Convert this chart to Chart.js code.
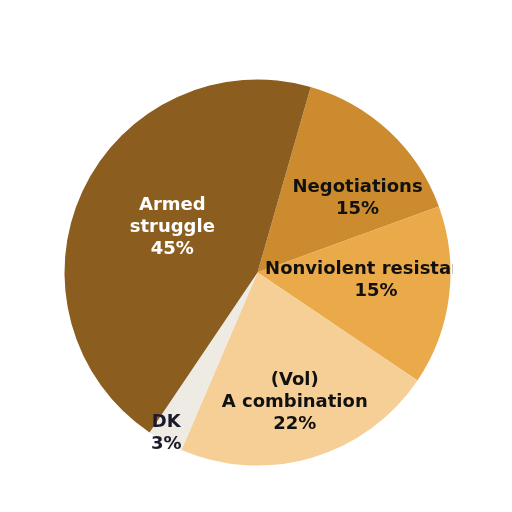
<!DOCTYPE html>
<html>
<head>
<meta charset="utf-8">
<script src="https://cdn.jsdelivr.net/npm/chart.js@4"></script>
<style>
  html, body { margin: 0; padding: 0; background: #fff; }
  #pie { display: block; }
</style>
</head>
<body>
<canvas id="pie" width="512" height="512"></canvas>
<script>
//______________________________________________________
// data
var SliceNames  = ['Negotiations', 'Nonviolent resistance', '(Vol) A combination', 'DK', 'Armed struggle'];
var SliceValues = [15, 15, 22, 3, 45];
var SliceLines  = [
    ['Negotiations', '15%'],
    ['Nonviolent resistance', '15%'],
    ['(Vol)', 'A combination', '22%'],
    ['DK', '3%'],
    ['Armed', 'struggle', '45%']
];

// look
var SliceColors = ['#CB8B2E', '#EBAA4A', '#F6CF97', '#EEEBE5', '#8B5E1F'];
var TextColors  = ['#111111', '#111111', '#111111', '#1a1a2a', '#ffffff'];
// where each label sits: fraction of radius, angle shift (deg) from slice middle
var LabelRadius = [0.645, 0.615, 0.70, 0.96, 0.50];
var LabelShift  = [10.5, -3.4, 0.4, 0.9, 3.0];
const LineHeight = 22;
const LabelFont  = 'bold 18px "DejaVu Sans", Verdana, sans-serif';

//______________________________________________________
const labelPlugin = {
    id: 'sliceLabels',
    afterDatasetsDraw(chart) {
        var ctx = chart.ctx;
        var area = chart.chartArea;
        var meta = chart.getDatasetMeta(0);
        ctx.save();
        ctx.beginPath();
        ctx.rect(area.left, 0, area.right - area.left + 2, chart.height);
        ctx.clip();
        ctx.font = LabelFont;
        ctx.textAlign = 'center';
        ctx.textBaseline = 'middle';
        meta.data.forEach(function (arc, i) {
            var p = arc.getProps(['x', 'y', 'startAngle', 'endAngle', 'outerRadius'], true);
            var mid = (p.startAngle + p.endAngle) / 2 + LabelShift[i] * Math.PI / 180;
            var r = p.outerRadius * LabelRadius[i];
            var cx = p.x + Math.cos(mid) * r;
            var cy = p.y + Math.sin(mid) * r;
            var lines = SliceLines[i];
            var top = cy - (lines.length - 1) * LineHeight / 2;
            ctx.fillStyle = TextColors[i];
            lines.forEach(function (t, k) {
                ctx.fillText(t, cx, top + k * LineHeight);
            });
        });
        ctx.restore();
    }
};

//______________________________________________________
new Chart(document.getElementById('pie'), {
    type: 'pie',
    data: {
        labels: SliceNames,
        datasets: [{
            data: SliceValues,
            backgroundColor: SliceColors,
            borderWidth: 0
        }]
    },
    options: {
        responsive: false,
        animation: false,
        rotation: 16,
        layout: { padding: { left: 64.5, right: 61.5, top: 79.5, bottom: 46.5 } },
        plugins: {
            legend: { display: false },
            tooltip: { enabled: false }
        }
    },
    plugins: [labelPlugin]
});
</script>
</body>
</html>
